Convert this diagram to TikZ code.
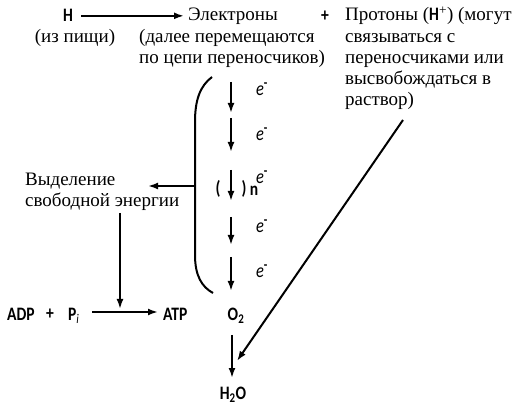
\documentclass[tikz,border=0pt]{standalone}
\usepackage{fontspec}
\setmainfont{Liberation Serif}
\newfontfamily\sansf[FakeStretch=0.82, UprightFont={* Bold}, ItalicFont={* Italic}]{Carlito}
\usetikzlibrary{arrows.meta}
\begin{document}
\begin{tikzpicture}[x=1pt,y=-1pt,
  serif/.style={font=\fontsize{19}{21.3}\selectfont, inner sep=0pt, align=left},
  sans/.style={font=\sansf\fontsize{19}{21}\selectfont, inner sep=0pt},
  elab/.style={font=\sansf\fontsize{20}{21}\selectfont, inner sep=0pt},
  arr/.style={line width=2pt, -{Latex[length=10pt,width=7pt]}},
  ln/.style={line width=2pt}]
\useasboundingbox (0,0) rectangle (519,411);
% top row
\node[sans, anchor=base] (h) at (68,22) {H};
\node[serif, anchor=base] (food) at (75,43) {(из пищи)};
\node[serif, anchor=base west] (el) at (188,21) {Электроны};
\node[serif, anchor=base west] (elnote) at (139,64) {(далее перемещаются\\по цепи переносчиков)};
\node[sans, anchor=base] (plus) at (325,22) {+};
\node[serif, anchor=base west] (prot) at (345,106) {Протоны ({\sansf H}\textsuperscript{+}) (могут\\связываться с\\переносчиками или\\высвобождаться в\\раствор)};
\draw[arr] (h.east) ++(8,0) coordinate (hs) -- ([xshift=-4pt]el.west |- hs);
% bracket
\draw[ln] (212,77) .. controls (200,86) and (195,100) .. (195,122) coordinate (br) -- (195,255) .. controls (195,276) and (202,287) .. (213,293);
\coordinate (brm) at (195,186);
% release node
\node[serif, anchor=base west] (rel) at (25,207) {Выделение\\свободной энергии};
\coordinate (relin) at (148,186);
\draw[arr] (brm) -- (relin);
% chain arrows
\foreach \i/\a/\b in {1/82/113, 2/118/152, 3/170/201, 4/217/245, 5/257/291}{
  \coordinate (cs\i) at (231,\a);
  \coordinate (ce\i) at (231,\b);
  \draw[arr] (cs\i) -- (ce\i);
}
\foreach \i/\y in {1/89, 2/134, 3/177, 4/226, 5/271}{
  \node[elab] (e\i) at (262,\y) {\textit{e}\textsuperscript{-}};
}
\node[sans] (lp) at (218,189) {(};
\node[sans] (rp) at (244,189) {)};
\node[sans] (nn) at (254,191) {n};
% ATP line
\node[sans, anchor=base west] (adp) at (7,320) {ADP};
\node[sans] (plus2) at (50,314) {+};
\node[sans, anchor=base west] (pi) at (68,320) {P\textsubscript{\textit{i}}};
\node[sans, anchor=base west] (atp) at (163,320) {ATP};
\draw[arr] (92,312) coordinate (ps) -- (158,312) coordinate (pe);
\coordinate (join) at (120,309);
\draw[arr] (120,213) coordinate (rs) -- (join);
% oxygen
\node[sans] (o2) at (236,316) {O\textsubscript{2}};
\node[sans] (h2o) at (233,395) {H\textsubscript{2}O};
\draw[arr] (232,335) coordinate (os) -- (232,378) coordinate (oe);
\coordinate (ds) at (403,120);
\coordinate (de) at (237,361);
\draw[arr] (ds) -- (de);
\end{tikzpicture}
\end{document}
